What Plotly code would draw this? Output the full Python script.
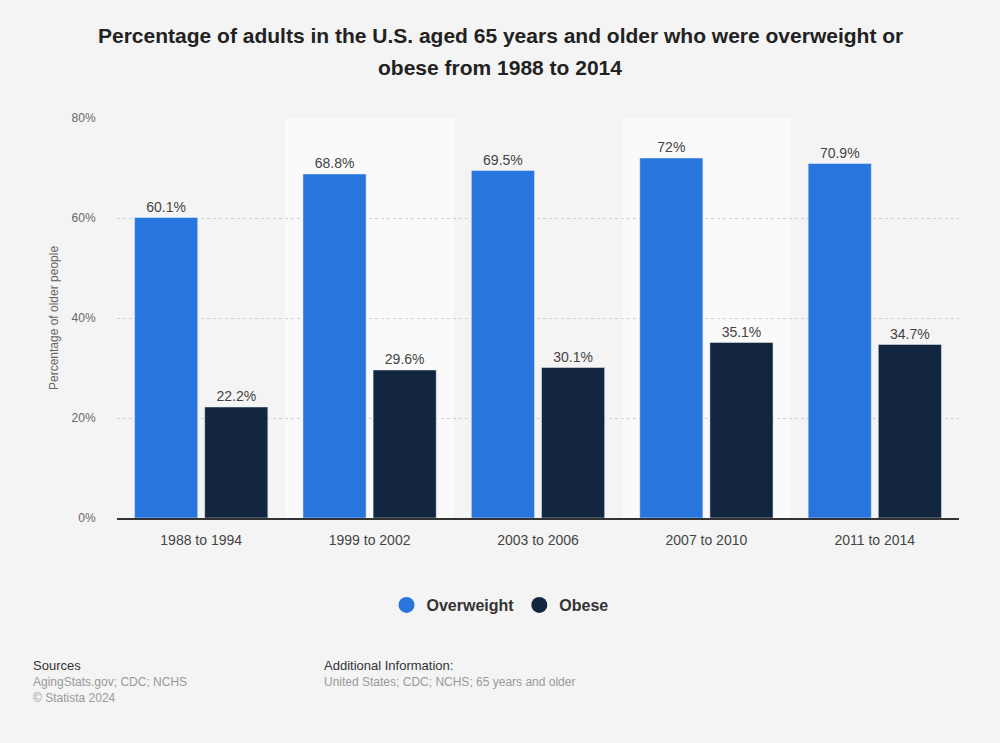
import plotly.graph_objects as go

categories = ["1988 to 1994", "1999 to 2002", "2003 to 2006", "2007 to 2010", "2011 to 2014"]
overweight = [60.1, 68.8, 69.5, 72, 70.9]
obese = [22.2, 29.6, 30.1, 35.1, 34.7]
y_ticks = [0, 20, 40, 60, 80]
y_tick_labels = ["0%", "20%", "40%", "60%", "80%"]

BLUE = "#2876dd"
NAVY = "#12263f"
FONT = "Liberation Sans, Arial, sans-serif"

fig = go.Figure()
for name, vals, col in [("Overweight", overweight, BLUE), ("Obese", obese, NAVY)]:
    fig.add_trace(go.Bar(name=name, x=categories, y=vals, marker_color=col,
                         text=[f"{v:g}" for v in vals], texttemplate="%{text}%", textposition="outside",
                         textfont=dict(size=14, color="#444444", family=FONT),
                         cliponaxis=False, showlegend=False, hoverinfo="skip"))
# legend entries with circle markers
for name, col in [("Overweight", BLUE), ("Obese", NAVY)]:
    fig.add_trace(go.Scatter(x=[None], y=[None], mode="markers", name=f"<b>{name}</b>",
                             marker=dict(size=17, color=col, symbol="circle")))

shapes = []
for i in range(len(categories)):
    if i % 2 == 1:
        shapes.append(dict(type="rect", xref="x", yref="paper", x0=i - 0.5, x1=i + 0.5,
                           y0=0, y1=1, fillcolor="#fafafa", line_width=0, layer="below"))

L, R, T, B = 117, 41, 118, 225
W, H = 1000, 743
pw, ph = W - L - R, H - T - B
def px(x): return (x - L) / pw
def py(y): return (H - B - y) / ph

fig.update_layout(
    width=1000, height=743,
    paper_bgcolor="#f4f4f4", plot_bgcolor="rgba(0,0,0,0)",
    margin=dict(l=L, r=R, t=T, b=B),
    font=dict(family=FONT, color="#333333"),
    barmode="group", bargap=0.167, bargroupgap=0.1,
    shapes=shapes,
    showlegend=True,
    legend=dict(orientation="h", x=px(500), xanchor="center", y=py(605), yanchor="middle",
                font=dict(size=16, color="#333333", family=FONT),
                bgcolor="rgba(0,0,0,0)"),
    xaxis=dict(showline=True, linecolor="#333333", linewidth=1.5, ticks="outside", ticklen=8,
               tickcolor="rgba(0,0,0,0)",
               tickfont=dict(size=14, color="#444444"), showgrid=False, fixedrange=True),
    yaxis=dict(range=[0, 80], tickvals=y_ticks, ticktext=y_tick_labels, showgrid=True,
               gridcolor="#cfcfcf", griddash="dot", gridwidth=1, zeroline=False,
               tickfont=dict(size=12, color="#666666"), ticks="outside", ticklen=18,
               tickcolor="rgba(0,0,0,0)", fixedrange=True,
               title=dict(text="Percentage of older people", font=dict(size=12, color="#666666"), standoff=10)),
)

def ann(text, x, y, size, color, bold=False, xanchor="left"):
    t = f"<b>{text}</b>" if bold else text
    fig.add_annotation(text=t, x=x, y=y, xref="paper", yref="paper", xanchor=xanchor, yanchor="middle",
                       showarrow=False, font=dict(size=size, color=color, family=FONT))

ann("Percentage of adults in the U.S. aged 65 years and older who were overweight or", px(500), py(35), 21, "#222222", True, "center")
ann("obese from 1988 to 2014", px(500), py(67), 21, "#222222", True, "center")
ann("Sources", px(31), py(665), 13, "#333333")
ann("AgingStats.gov; CDC; NCHS", px(31), py(682), 12, "#999999")
ann("© Statista 2024", px(31), py(698), 12, "#999999")
ann("Additional Information:", px(322), py(665), 13, "#333333")
ann("United States; CDC; NCHS; 65 years and older", px(322), py(682), 12, "#999999")

fig.write_html("out.html", config={"displayModeBar": False},
               post_script="document.body.style.margin='0';document.body.style.background='#f4f4f4';")
